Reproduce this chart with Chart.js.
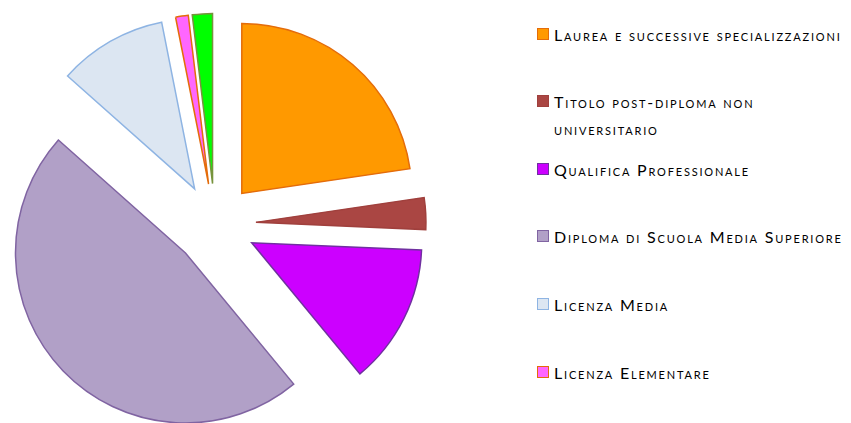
<!DOCTYPE html>
<html>
<head>
<meta charset="utf-8">
<script src="https://cdn.jsdelivr.net/npm/chart.js@4"></script>
<style>
  body { margin: 0; background: #fff; }
  #wrap { position: relative; width: 851px; height: 423px; overflow: hidden; }
  #grafico { position: absolute; left: 0; top: 0; }
  .voce { position: absolute; left: 537px; display: flex; align-items: flex-start;
          font-family: Lato, "Open Sans", sans-serif; font-size: 16px; font-variant: small-caps;
          letter-spacing: 1.8px; line-height: 27px; color: #000; white-space: nowrap; }
  .quadrato { width: 10px; height: 10px; margin-top: 7px; margin-right: 5px; flex: none; }
</style>
</head>
<body>
<div id="wrap">
  <canvas id="grafico" width="430" height="423"></canvas>
  <div id="legenda"></div>
</div>
<script>
// Titoli di studio e relative percentuali
const titoli = [
  "Laurea e successive specializzazioni",
  ["Titolo post-diploma non", "universitario"],
  "Qualifica Professionale",
  "Diploma di Scuola Media Superiore",
  "Licenza Media",
  "Licenza Elementare",
  "Nessun titolo"
];
const percentuali = [22.6, 3.0, 13.3, 47.4, 10.3, 1.2, 1.9];

// Colori di riempimento e di bordo delle fette
const riempimenti = ["#FF9900", "#AA4643", "#CC00FF", "#B1A0C7", "#DCE6F2", "#FF66FF", "#00FF00"];
const bordi = ["#E46C0A", "#A0403D", "#7030A0", "#8064A2", "#8EB4E3", "#E46C0A", "#77933C"];

// Quante voci mostra la legenda (l'ultima resta fuori, come nell'originale)
const vociInLegenda = 6;
// Distanza di esplosione delle fette (px)
const distanza = 41;

// Plugin: sposta ogni fetta lungo la sua bisettrice (torta esplosa)
const esplosione = {
  id: "esplosione",
  beforeDatasetDraw(chart, args) {
    const c = chart.ctx;
    args.meta.data.forEach(arco => {
      const a = (arco.startAngle + arco.endAngle) / 2;
      c.save();
      c.translate(Math.cos(a) * distanza, Math.sin(a) * distanza);
      arco.draw(c);
      c.restore();
    });
    return false;
  }
};

const ctx = document.getElementById("grafico").getContext("2d");
const grafico = new Chart(ctx, {
  type: "pie",
  data: {
    labels: titoli,
    datasets: [{
      data: percentuali,
      backgroundColor: riempimenti,
      borderColor: bordi,
      borderWidth: 1.5,
      borderJoinStyle: "miter"
    }]
  },
  options: {
    responsive: false,
    animation: false,
    radius: 170,
    layout: { padding: { top: 26 } },
    plugins: {
      legend: { display: false },
      tooltip: { enabled: false }
    }
  },
  plugins: [esplosione]
});

// Legenda in HTML con il maiuscoletto
const legenda = document.getElementById("legenda");
for (let i = 0; i < vociInLegenda; i++) {
  const voce = document.createElement("div");
  voce.className = "voce";
  voce.style.top = (34 + i * 67.6 - 13.5) + "px";
  const q = document.createElement("span");
  q.className = "quadrato";
  q.style.background = riempimenti[i];
  q.style.border = "1.5px solid " + bordi[i];
  const testo = document.createElement("span");
  const righe = Array.isArray(titoli[i]) ? titoli[i] : [titoli[i]];
  righe.forEach((r, k) => {
    if (k > 0) testo.appendChild(document.createElement("br"));
    testo.appendChild(document.createTextNode(r));
  });
  voce.appendChild(q);
  voce.appendChild(testo);
  legenda.appendChild(voce);
}
</script>
</body>
</html>
